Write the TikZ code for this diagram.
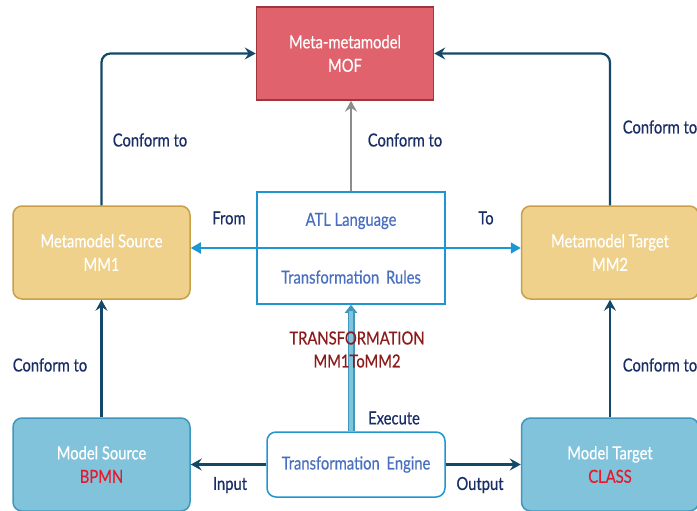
\documentclass[tikz,border=0pt]{standalone}
\usepackage{fontspec}
\setmainfont{Lato}[FakeStretch=0.82, FakeBold=0.5]
\usepackage{tikz}
\usetikzlibrary{arrows.meta, positioning, calc}
\definecolor{navy}{RGB}{20,72,105}
\definecolor{labelblue}{RGB}{26,46,102}
\definecolor{mofred}{RGB}{224,98,108}
\definecolor{mofdark}{RGB}{160,53,61}
\definecolor{atlblue}{RGB}{30,150,210}
\definecolor{atltext}{RGB}{74,111,192}
\definecolor{mmfill}{RGB}{239,209,140}
\definecolor{mmdraw}{RGB}{201,160,72}
\definecolor{modfill}{RGB}{130,195,220}
\definecolor{moddraw}{RGB}{62,151,188}
\definecolor{darkred}{RGB}{139,26,26}
\definecolor{alertred}{RGB}{232,25,44}

\tikzset{
  box/.style={draw, line width=1.5pt, minimum width=177pt, minimum height=93pt,
    align=center, text=white, font=\fontsize{18}{23.5}\selectfont},
  mofbox/.style={box, fill=mofred, draw=mofdark},
  mmbox/.style={box, fill=mmfill, draw=mmdraw, rounded corners=9pt},
  modbox/.style={box, fill=modfill, draw=moddraw, rounded corners=9pt},
  lbl/.style={text=labelblue, font=\fontsize{18}{21}\selectfont},
  conform/.style={draw=navy, line width=2.2pt, -{Stealth[length=11pt,width=12pt,inset=4pt]}},
  flow/.style={draw=atlblue, line width=1.8pt, -{Triangle[length=10pt,width=11pt]}}
}

\begin{document}
\begin{tikzpicture}[x=1pt,y=-1pt]
\useasboundingbox (0,0) rectangle (697,511);
% boxes
\node[mofbox] (mof) at (345,53.5) {Meta-metamodel\\MOF};
\node[mmbox] (mm1) at (101.5,252.5) {Metamodel Source\\MM1};
\node[mmbox] (mm2) at (610,252.5) {Metamodel Target\\MM2};
\node[modbox] (ms) at (101.5,464.5) {Model Source\\\textcolor{alertred}{BPMN}};
\node[modbox] (mt) at (610,464.5) {Model Target\\\textcolor{alertred}{CLASS}};
\node[draw=atlblue, line width=1.5pt, minimum width=188pt, minimum height=112pt] (atl) at (351,248) {};
\node[text=atltext, font=\fontsize{18}{21}\selectfont] (atllang) at (351,221) {ATL Language};
\node[text=atltext, font=\fontsize{18}{21}\selectfont] (rules) at (351,277) {Transformation\, Rules};
\node[draw=atlblue, line width=1.5pt, fill=white, rounded corners=9pt, minimum width=178pt,
  minimum height=65pt, text=atltext, font=\fontsize{18}{21}\selectfont] (eng) at (356,464.5) {Transformation\, Engine};

% conform to arrows
\draw[conform, rounded corners=9pt] (mm1.north) |- (mof.west);
\draw[conform, rounded corners=9pt] (mm2.north) |- (mof.east);
\draw[conform] (ms) -- (mm1);
\draw[conform] (mt) -- (mm2);
\draw[conform, draw=gray!90] (atl.north) -- (atl.north |- mof.south);
\draw[conform] (eng.west) -- (ms.east);
\draw[conform] (eng.east) -- (mt.west);

% from / to
\draw[flow] (atl.center) -- (atl.center -| mm1.east);
\draw[flow] (atl.center) -- (atl.center -| mm2.west);

% execute
\draw[draw=moddraw, line width=7pt, -{Triangle[length=8pt,width=12pt]}] (eng.north -| atl.south) -- (atl.south);
\draw[draw=modfill, line width=4pt, shorten >=6pt] (eng.north -| atl.south) -- (atl.south);

% labels
\node[lbl] (c1) at (150,140) {Conform to};
\node[lbl] (c2) at (405,140) {Conform to};
\node[lbl] (c3) at (660,127) {Conform to};
\node[lbl] (c4) at (50,365) {Conform to};
\node[lbl] (c5) at (660,365) {Conform to};
\node[lbl] (from) at (229,218) {From};
\node[lbl] (to) at (486,218) {To};
\node[lbl] (exec) at (394,418) {Execute};
\node[lbl] (input) at (230,485) {Input};
\node[lbl] (output) at (480,485) {Output};
\node[text=darkred, align=center, font=\fontsize{18}{23}\selectfont] (trans) at (357,349.5) {TRANSFORMATION\\MM1ToMM2};
\end{tikzpicture}
\end{document}
